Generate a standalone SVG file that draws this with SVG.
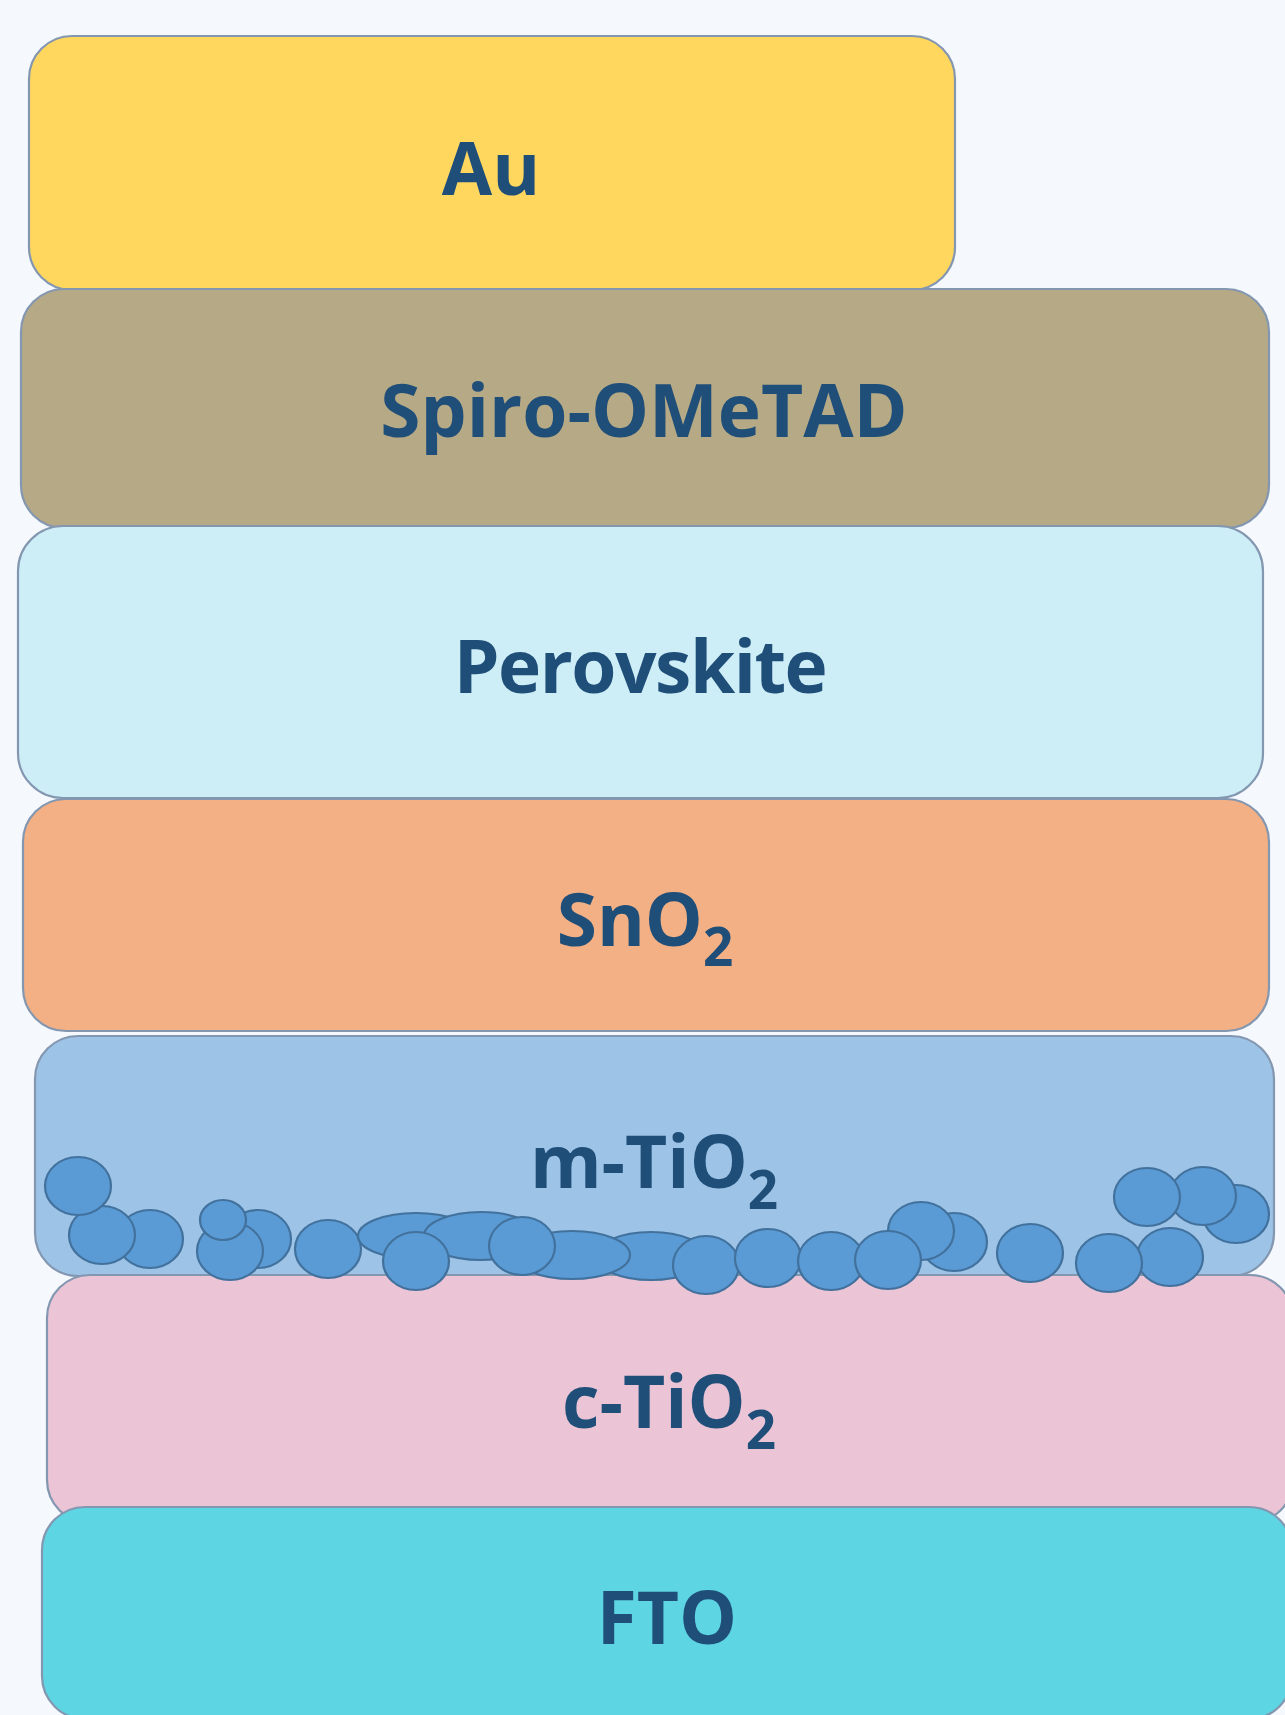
<svg xmlns="http://www.w3.org/2000/svg" width="1285" height="1715" viewBox="0 0 1285 1715">
<style>
.layer{stroke:#8497B0;stroke-width:2.2}
.lbl{font-family:"Open Sans","Liberation Sans",sans-serif;font-weight:bold;font-size:73px;fill:#1F4E79;text-anchor:middle}
.sub{font-size:53px}
.p{fill:#5B9BD5;stroke:#41719C;stroke-width:2.2}
</style>
<rect width="1285" height="1715" fill="#F5F8FD"/>
<g id="au"><rect class="layer" x="29" y="36" width="926" height="254" rx="43" fill="#FFD75E"/><text class="lbl" x="491" y="195">Au</text></g>
<g id="spiro"><rect class="layer" x="21" y="289" width="1248" height="239" rx="43" fill="#B6A985"/><text class="lbl" x="644" y="437">Spiro-OMeTAD</text></g>
<g id="perovskite"><rect class="layer" x="18" y="526" width="1245" height="272" rx="45" fill="#CDEEF7"/><text class="lbl" x="640" y="693" letter-spacing="-1.5">Perovskite</text></g>
<g id="sno2"><rect class="layer" x="23" y="799" width="1246" height="232" rx="43" fill="#F3B084"/><text class="lbl" x="645" y="946">SnO<tspan class="sub" dy="20">2</tspan></text></g>
<g id="mtio2"><rect class="layer" x="35" y="1036" width="1239" height="240" rx="43" fill="#9DC3E6"/><text class="lbl" x="654" y="1188">m-TiO<tspan class="sub" dy="21">2</tspan></text></g>
<g id="ctio2"><rect class="layer" x="47" y="1275" width="1246" height="248" rx="43" fill="#EBC4D6"/><text class="lbl" x="669" y="1428">c-TiO<tspan class="sub" dy="21">2</tspan></text></g>
<g id="particles">
<ellipse class="p" cx="150" cy="1239" rx="33" ry="29"/>
<ellipse class="p" cx="102" cy="1235" rx="33" ry="29"/>
<ellipse class="p" cx="78" cy="1186" rx="33" ry="29"/>
<ellipse class="p" cx="258" cy="1239" rx="33" ry="29"/>
<ellipse class="p" cx="230" cy="1251" rx="33" ry="29"/>
<ellipse class="p" cx="223" cy="1220" rx="23" ry="20"/>
<ellipse class="p" cx="328" cy="1249" rx="33" ry="29"/>
<ellipse class="p" cx="416" cy="1236" rx="58" ry="23"/>
<ellipse class="p" cx="481" cy="1236" rx="57" ry="24"/>
<ellipse class="p" cx="416" cy="1261" rx="33" ry="29"/>
<ellipse class="p" cx="651" cy="1256" rx="55" ry="24"/>
<ellipse class="p" cx="572" cy="1255" rx="58" ry="24"/>
<ellipse class="p" cx="522" cy="1246" rx="33" ry="29"/>
<ellipse class="p" cx="706" cy="1265" rx="33" ry="29"/>
<ellipse class="p" cx="768" cy="1258" rx="33" ry="29"/>
<ellipse class="p" cx="831" cy="1261" rx="33" ry="29"/>
<ellipse class="p" cx="954" cy="1242" rx="33" ry="29"/>
<ellipse class="p" cx="921" cy="1231" rx="33" ry="29"/>
<ellipse class="p" cx="888" cy="1260" rx="33" ry="29"/>
<ellipse class="p" cx="1030" cy="1253" rx="33" ry="29"/>
<ellipse class="p" cx="1170" cy="1257" rx="33" ry="29"/>
<ellipse class="p" cx="1109" cy="1263" rx="33" ry="29"/>
<ellipse class="p" cx="1236" cy="1214" rx="33" ry="29"/>
<ellipse class="p" cx="1203" cy="1196" rx="33" ry="29"/>
<ellipse class="p" cx="1147" cy="1197" rx="33" ry="29"/>
</g>
<g id="fto"><rect class="layer" x="42" y="1507" width="1250" height="212" rx="43" fill="#5DD5E3"/><text class="lbl" x="667" y="1644">FTO</text></g>
</svg>
